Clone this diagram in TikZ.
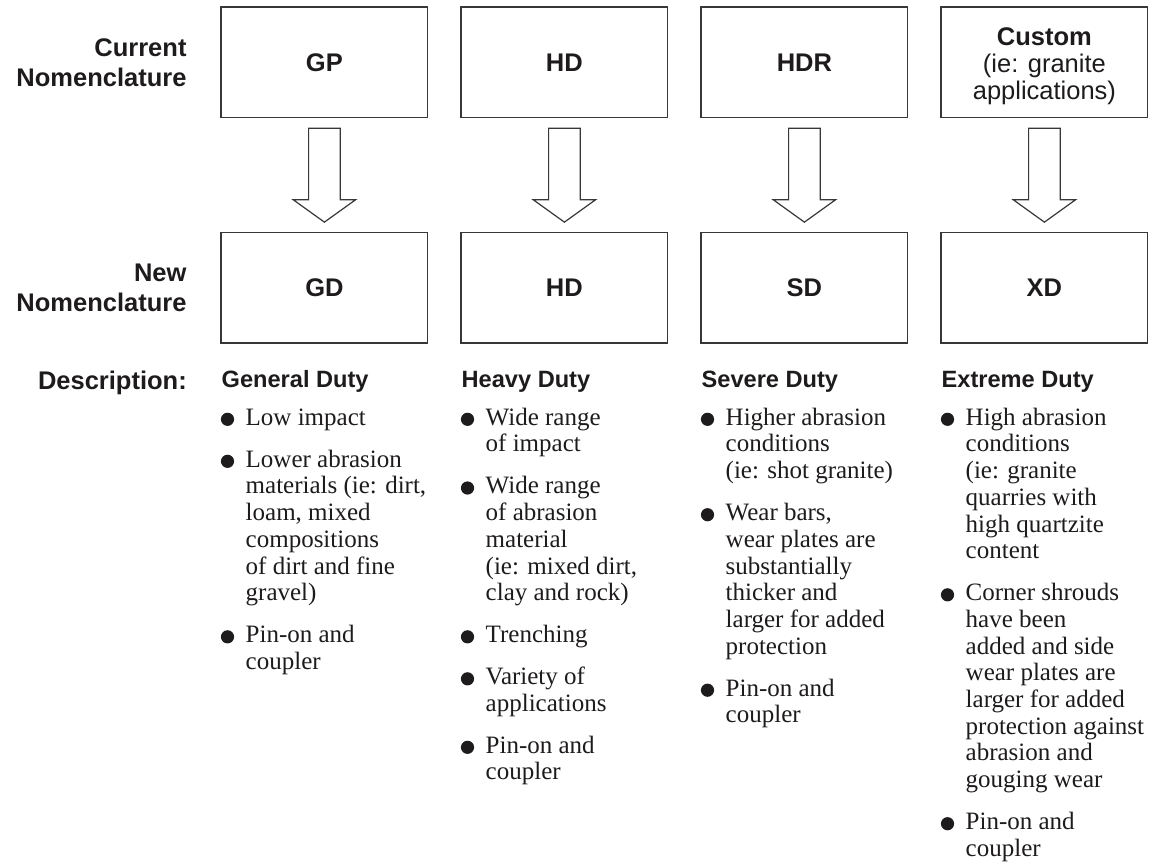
\documentclass[tikz,border=0pt]{standalone}
\usepackage{fontspec}
\setmainfont{Liberation Serif}
\newfontfamily\hsans{Liberation Sans}
\usetikzlibrary{calc}
\definecolor{ink}{RGB}{30,27,28}
\definecolor{edge}{RGB}{55,55,55}
\tikzset{
  navbox/.style={draw=edge, line width=1.2pt, minimum width=206.7pt, minimum height=110.5pt,
    inner sep=0pt, font=\hsans\bfseries\fontsize{25.5pt}{30pt}\selectfont, text=ink},
  sidelabel/.style={font=\hsans\bfseries\fontsize{25.5pt}{30pt}\selectfont, text=ink,
    inner sep=0pt, align=right},
  customtext/.style={font=\hsans\fontsize{25.5pt}{27.3pt}\selectfont, text=ink,
    inner sep=0pt, align=center, anchor=north},
  duty/.style={font=\hsans\bfseries\fontsize{23.6pt}{28pt}\selectfont, text=ink,
    inner sep=0pt, anchor=base west},
  item/.style={font=\fontsize{25pt}{26.7pt}\selectfont, text=ink, inner sep=0pt,
    align=left, anchor=north west},
  blockarrow/.style={draw=edge, line width=1.2pt, fill=white, line join=miter},
  dot/.style={fill=ink},
}
\newcommand\bulletitem[4]{%
  \node[item] (#1) at (#2, #3-18) {\rule{0pt}{18pt}#4};
  \fill[dot] ($(#1.north west)+(-18,12.3)$) circle (6.6pt);}
\begin{document}
\begin{tikzpicture}[x=1pt, y=-1pt]
\useasboundingbox (0,0) rectangle (1164,864);

% boxes
\node[navbox] (t1) at (324.4, 62.3) {GP};
\node[navbox] (t2) at (564.4, 62.3) {HD};
\node[navbox] (t3) at (804.4, 62.3) {HDR};
\node[navbox] (t4) at (1044.4, 62.3) {};
\node[customtext] (t4lbl) at (1044.4, 25) {\rule{0pt}{20pt}\bfseries Custom\\(ie: granite\\applications)};
\node[navbox] (b1) at (324.4, 287.7) {GD};
\node[navbox] (b2) at (564.4, 287.7) {HD};
\node[navbox] (b3) at (804.4, 287.7) {SD};
\node[navbox] (b4) at (1044.4, 287.7) {XD};

% block arrows
\foreach \i in {1,...,4}{
  \draw[blockarrow] ($(t\i.south)+(-15.8,10.2)$) -- ($(t\i.south)+(15.8,10.2)$)
    -- ($(t\i.south)+(15.8,81.5)$) -- ($(t\i.south)+(31.3,81.5)$)
    -- ($(b\i.north)+(0,-9.7)$) -- ($(t\i.south)+(-31.3,81.5)$)
    -- ($(t\i.south)+(-15.8,81.5)$) -- cycle;
}

% side labels
\node[sidelabel, anchor=north east] (curlbl) at (186.7, 36.7) {\rule{0pt}{20pt}Current\\Nomenclature};
\node[sidelabel, anchor=north east] (newlbl) at (186.7, 261.7) {\rule{0pt}{20pt}New\\Nomenclature};
\node[sidelabel, anchor=base east] (desc) at (187, 389) {Description:};

% headings
\node[duty] (h1) at (221.5, 387) {General Duty};
\node[duty] (h2) at (461.5, 387) {Heavy Duty};
\node[duty] (h3) at (701.5, 387) {Severe Duty};
\node[duty] (h4) at (941.5, 387) {Extreme Duty};

% column 1
\bulletitem{c1a}{245.5}{425}{Low impact}
\bulletitem{c1b}{245.5}{467}{Lower abrasion\\materials (ie: dirt,\\loam, mixed\\compositions\\of dirt and fine\\gravel)}
\bulletitem{c1c}{245.5}{642.5}{Pin-on and\\coupler}

% column 2
\bulletitem{c2a}{485.5}{425}{Wide range\\of impact}
\bulletitem{c2b}{485.5}{493.7}{Wide range\\of abrasion\\material\\(ie: mixed dirt,\\clay and rock)}
\bulletitem{c2c}{485.5}{642.5}{Trenching}
\bulletitem{c2d}{485.5}{684.5}{Variety of\\applications}
\bulletitem{c2e}{485.5}{753}{Pin-on and\\coupler}

% column 3
\bulletitem{c3a}{725.5}{425}{Higher abrasion\\conditions\\(ie: shot granite)}
\bulletitem{c3b}{725.5}{520.4}{Wear bars,\\wear plates are\\substantially\\thicker and\\larger for added\\protection}
\bulletitem{c3c}{725.5}{695.9}{Pin-on and\\coupler}

% column 4
\bulletitem{c4a}{965.5}{425}{High abrasion\\conditions\\(ie: granite\\quarries with\\high quartzite\\content}
\bulletitem{c4b}{965.5}{600.5}{Corner shrouds\\have been\\added and side\\wear plates are\\larger for added\\protection against\\abrasion and\\gouging wear}
\bulletitem{c4c}{965.5}{829.4}{Pin-on and\\coupler}
\end{tikzpicture}
\end{document}
